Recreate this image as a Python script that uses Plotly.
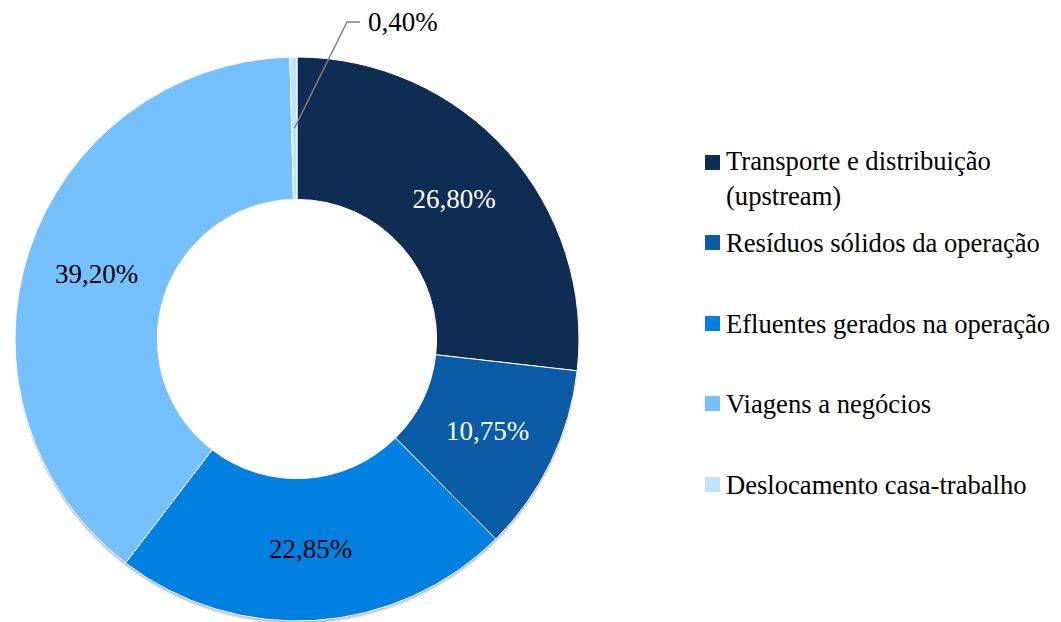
import math
import plotly.graph_objects as go

categories = [
    "Transporte e distribuição (upstream)",
    "Resíduos sólidos da operação",
    "Efluentes gerados na operação",
    "Viagens a negócios",
    "Deslocamento casa-trabalho",
]
legend_labels = [
    "Transporte e distribuição<br>(upstream)",
    "Resíduos sólidos da operação",
    "Efluentes gerados na operação",
    "Viagens a negócios",
    "Deslocamento casa-trabalho",
]
values = [26.80, 10.75, 22.85, 39.20, 0.40]
colors = ["#0F2D52", "#0B5BA6", "#0080E0", "#75C1FF", "#BDE3FF"]
text_colors = ["white", "white", "black", "black", "black"]

W, H = 1061, 622
FONT = "Liberation Serif"
FS = 27
FS_LEG = 26.6

# pie geometry (pixels)
cx, cy, R = 297.0, 339.0, 282.0
hole = 0.495

texts = [f"{v:.2f}".replace(".", ",") + "%" for v in values]
positions = ["inside", "inside", "inside", "inside", "none"]

fig = go.Figure()
fig.add_trace(go.Pie(
    labels=categories,
    values=values,
    text=texts,
    textinfo="text",
    textposition=positions,
    insidetextorientation="horizontal",
    textfont=dict(family=FONT, size=FS, color=text_colors),
    marker=dict(colors=colors, line=dict(color="white", width=1)),
    sort=False,
    direction="clockwise",
    rotation=0,
    hole=hole,
    showlegend=False,
    domain=dict(x=[(cx - R) / W, (cx + R) / W], y=[(H - cy - R) / H, (H - cy + R) / H]),
))

shapes = []
annotations = []

# soft drop shadow under the ring (bottom side)
for off, op in [(4, 0.05), (3, 0.07), (2, 0.09), (1, 0.10)]:
    shapes.append(dict(
        type="circle", xref="paper", yref="paper", layer="below",
        x0=(cx - R) / W, x1=(cx + R) / W,
        y0=(H - (cy + off) - R) / H, y1=(H - (cy + off) + R) / H,
        fillcolor=f"rgba(0,0,0,{op})", line=dict(width=0),
    ))
rh = R * hole + 3
shapes.append(dict(
    type="circle", xref="paper", yref="paper", layer="below",
    x0=(cx - rh) / W, x1=(cx + rh) / W,
    y0=(H - cy - rh) / H, y1=(H - cy + rh) / H,
    fillcolor="white", line=dict(width=0),
))

# leader line for the small slice
total = sum(values)
cum_before = sum(values[:-1])
mid_frac = (cum_before + values[-1] / 2) / total
theta = 2 * math.pi * mid_frac
r_mid = R * (1 + hole) / 2
px = cx + r_mid * math.sin(theta)
py = cy - r_mid * math.cos(theta)
bx, by = 347.0, 22.0
ex = 360.0
def pp(x, y):
    return f"{x / W:.5f},{1 - y / H:.5f}"
shapes.append(dict(
    type="path", xref="paper", yref="paper",
    path=f"M {pp(px, py)} L {pp(bx, by)} L {pp(ex, by)}",
    line=dict(color="#808080", width=1.5),
))
annotations.append(dict(
    x=(ex + 6) / W, y=1 - by / H, xref="paper", yref="paper",
    xanchor="left", yanchor="middle", showarrow=False,
    text=texts[-1], font=dict(family=FONT, size=FS, color="black"),
))

# manual legend
leg_y = [162.5, 242.5, 323.5, 403.5, 484.5]
sq = 15
sx = 705
line_h = 32
for lbl, col, y in zip(legend_labels, colors, leg_y):
    shapes.append(dict(
        type="rect", xref="paper", yref="paper",
        x0=sx / W, x1=(sx + sq) / W,
        y0=1 - (y + sq / 2) / H, y1=1 - (y - sq / 2) / H,
        fillcolor=col, line=dict(width=0),
    ))
    nlines = lbl.count("<br>") + 1
    ymid = y + (nlines - 1) * line_h / 2
    annotations.append(dict(
        x=(sx + sq + 4) / W, y=1 - ymid / H, xref="paper", yref="paper",
        xanchor="left", yanchor="middle", align="left", showarrow=False,
        text=lbl, font=dict(family=FONT, size=FS_LEG, color="black"),
    ))

fig.update_layout(
    width=W, height=H,
    margin=dict(l=0, r=0, t=0, b=0),
    paper_bgcolor="white", plot_bgcolor="white",
    shapes=shapes, annotations=annotations,
    font=dict(family=FONT),
)

fig.write_html(
    "out.html",
    config={"displayModeBar": False},
    post_script="document.body.style.margin='0px';document.body.style.overflow='hidden';",
)
